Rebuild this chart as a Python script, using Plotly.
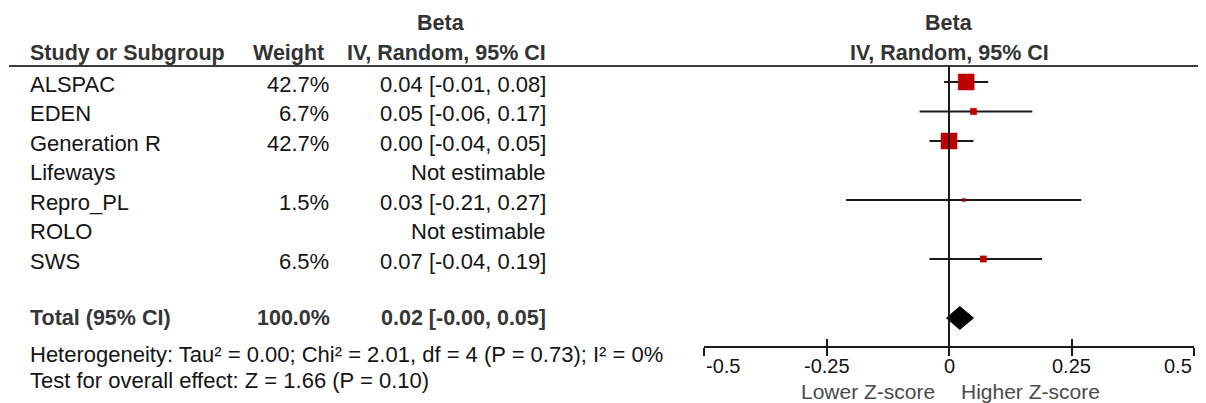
import math
import plotly.graph_objects as go

W, H = 1206, 403

# ---------------- data ----------------
studies = ["ALSPAC", "EDEN", "Generation R", "Lifeways", "Repro_PL", "ROLO", "SWS"]
weights = [42.7, 6.7, 42.7, None, 1.5, None, 6.5]
weight_labels = ["42.7%", "6.7%", "42.7%", "", "1.5%", "", "6.5%"]
beta = [0.035, 0.05, 0.00, None, 0.03, None, 0.07]
ci_low = [-0.01, -0.06, -0.04, None, -0.21, None, -0.04]
ci_high = [0.08, 0.17, 0.05, None, 0.27, None, 0.19]
ci_labels = ["0.04 [-0.01, 0.08]", "0.05 [-0.06, 0.17]", "0.00 [-0.04, 0.05]",
             "Not estimable", "0.03 [-0.21, 0.27]", "Not estimable", "0.07 [-0.04, 0.19]"]

total_label = "Total (95% CI)"
total_weight_label = "100.0%"
total_beta = 0.022
total_low = -0.005
total_high = 0.05
total_ci_label = "0.02 [-0.00, 0.05]"

heterogeneity = "Heterogeneity: Tau² = 0.00; Chi² = 2.01, df = 4 (P = 0.73); I² = 0%"
overall_effect = "Test for overall effect: Z = 1.66 (P = 0.10)"

x_ticks = [-0.5, -0.25, 0, 0.25, 0.5]
x_tick_labels = ["-0.5", "-0.25", "0", "0.25", "0.5"]
favours_left = "Lower Z-score"
favours_right = "Higher Z-score"

# ---------------- layout helpers ----------------
FONT = "Liberation Sans, Arial, sans-serif"
FS = 22          # body text
FSB = 21.5       # bold text
OX, OY = 8, 8    # page margin of the html body
ROW0, ROWH = 82.0, 29.5          # reference pixel y of first row, row pitch
TOTAL_ROW = 8


def px(x):
    return (x - OX) / W


def py(y):
    return 1 - (y - OY) / H


def row_of(pixel):
    return (pixel - ROW0) / ROWH


rows = list(range(len(studies)))

fig = go.Figure()

# CI lines + weighted squares
est_rows = [r for r in rows if beta[r] is not None]
fig.add_trace(go.Scatter(
    x=[beta[r] for r in est_rows],
    y=[r for r in est_rows],
    mode="markers",
    marker=dict(symbol="square", color="#c00000", opacity=1,
                size=[16 * math.sqrt(weights[r] / 42.7) for r in est_rows],
                line=dict(width=0.5, color="#b00000")),
    error_x=dict(type="data", symmetric=False,
                 array=[ci_high[r] - beta[r] for r in est_rows],
                 arrayminus=[beta[r] - ci_low[r] for r in est_rows],
                 width=0, thickness=2, color="#1a1a1a"),
    hoverinfo="skip", showlegend=False,
))

# pooled diamond
dh = 0.39
fig.add_trace(go.Scatter(
    x=[total_low, total_beta, total_high, total_beta, total_low],
    y=[TOTAL_ROW, TOTAL_ROW - dh, TOTAL_ROW, TOTAL_ROW + dh, TOTAL_ROW],
    mode="lines", fill="toself", fillcolor="#000000",
    line=dict(color="#000000", width=1),
    hoverinfo="skip", showlegend=False,
))

# helper trace on overlay axis (for crossing ticks)
fig.add_trace(go.Scatter(x=[x_ticks[0]], y=[0], xaxis="x2", mode="markers",
                         marker=dict(opacity=0), hoverinfo="skip", showlegend=False))

axis_pos = py(347)
dom = [px(704), px(1194)]
fig.update_layout(
    width=W, height=H,
    margin=dict(l=0, r=0, t=0, b=0),
    paper_bgcolor="white", plot_bgcolor="rgba(0,0,0,0)",
    xaxis=dict(domain=dom, range=[-0.5, 0.5], anchor="free", position=axis_pos,
               showline=True, linewidth=2, linecolor="#1a1a1a",
               ticks="outside", ticklen=8, tickwidth=2, tickcolor="#1a1a1a",
               tickvals=x_ticks, showticklabels=False,
               showgrid=False, zeroline=False, fixedrange=True),
    xaxis2=dict(domain=dom, range=[-0.5, 0.5], overlaying="x", anchor="free",
                position=axis_pos, showline=False,
                ticks="inside", ticklen=8, tickwidth=2, tickcolor="#1a1a1a",
                tickvals=x_ticks, showticklabels=False,
                showgrid=False, zeroline=False, fixedrange=True),
    yaxis=dict(domain=[0, 1], range=[row_of(OY + H), row_of(OY)], visible=False,
               fixedrange=True),
    showlegend=False,
)

shapes = [
    # header rule
    dict(type="line", xref="paper", yref="paper", x0=px(9), x1=1, y0=py(66), y1=py(66),
         line=dict(color="#3c3c3c", width=2)),
    # line of no effect
    dict(type="line", xref="x", yref="paper", x0=0, x1=0, y0=py(66), y1=axis_pos,
         line=dict(color="#1a1a1a", width=2)),
]
fig.update_layout(shapes=shapes)

ann = []


def text(x, y, s, anchor="left", color="#141414", bold=False, size=None, xref="paper", yref="paper", yshift=0):
    if size is None:
        size = FSB if bold else FS
    ann.append(dict(x=x, y=y, xref=xref, yref=yref, text=(f"<b>{s}</b>" if bold else s),
                    showarrow=False, xanchor=anchor, yanchor="middle", yshift=yshift,
                    font=dict(family=FONT, size=size, color=color)))


HDR = "#333333"
# headers
text(px(441), py(23), "Beta", "center", HDR, True)
text(px(28), py(53), "Study or Subgroup", "left", HDR, True)
text(px(326), py(53), "Weight", "right", HDR, True)
text(px(548), py(53), "IV, Random, 95% CI", "right", HDR, True)
text(0, py(23), "Beta", "center", HDR, True, xref="x")
text(0, py(53), "IV, Random, 95% CI", "center", HDR, True, xref="x")

# study rows
for r in rows:
    text(px(28), r, studies[r], "left", yref="y", yshift=-2)
    if weight_labels[r]:
        text(px(331), r, weight_labels[r], "right", yref="y", yshift=-2)
    text(px(548), r, ci_labels[r], "right", yref="y", yshift=-2)

# total row
TOT = "#363636"
text(px(28), TOTAL_ROW, total_label, "left", TOT, True, yref="y")
text(px(332), TOTAL_ROW, total_weight_label, "right", TOT, True, yref="y")
text(px(548), TOTAL_ROW, total_ci_label, "right", TOT, True, yref="y")

text(px(28), py(354), heterogeneity, "left")
text(px(28), py(380), overall_effect, "left")

# tick labels
for i, (v, lab) in enumerate(zip(x_ticks, x_tick_labels)):
    anchor = "left" if i == 0 else ("right" if i == len(x_ticks) - 1 else "center")
    text(v, py(366), lab, anchor, "#141414", size=20, xref="x")

# favours labels
text(px(937), py(391), favours_left, "right", "#4a4a4a", size=21)
text(px(959), py(391), favours_right, "left", "#4a4a4a", size=21)

fig.update_layout(annotations=ann)
fig.write_html("out.html")
